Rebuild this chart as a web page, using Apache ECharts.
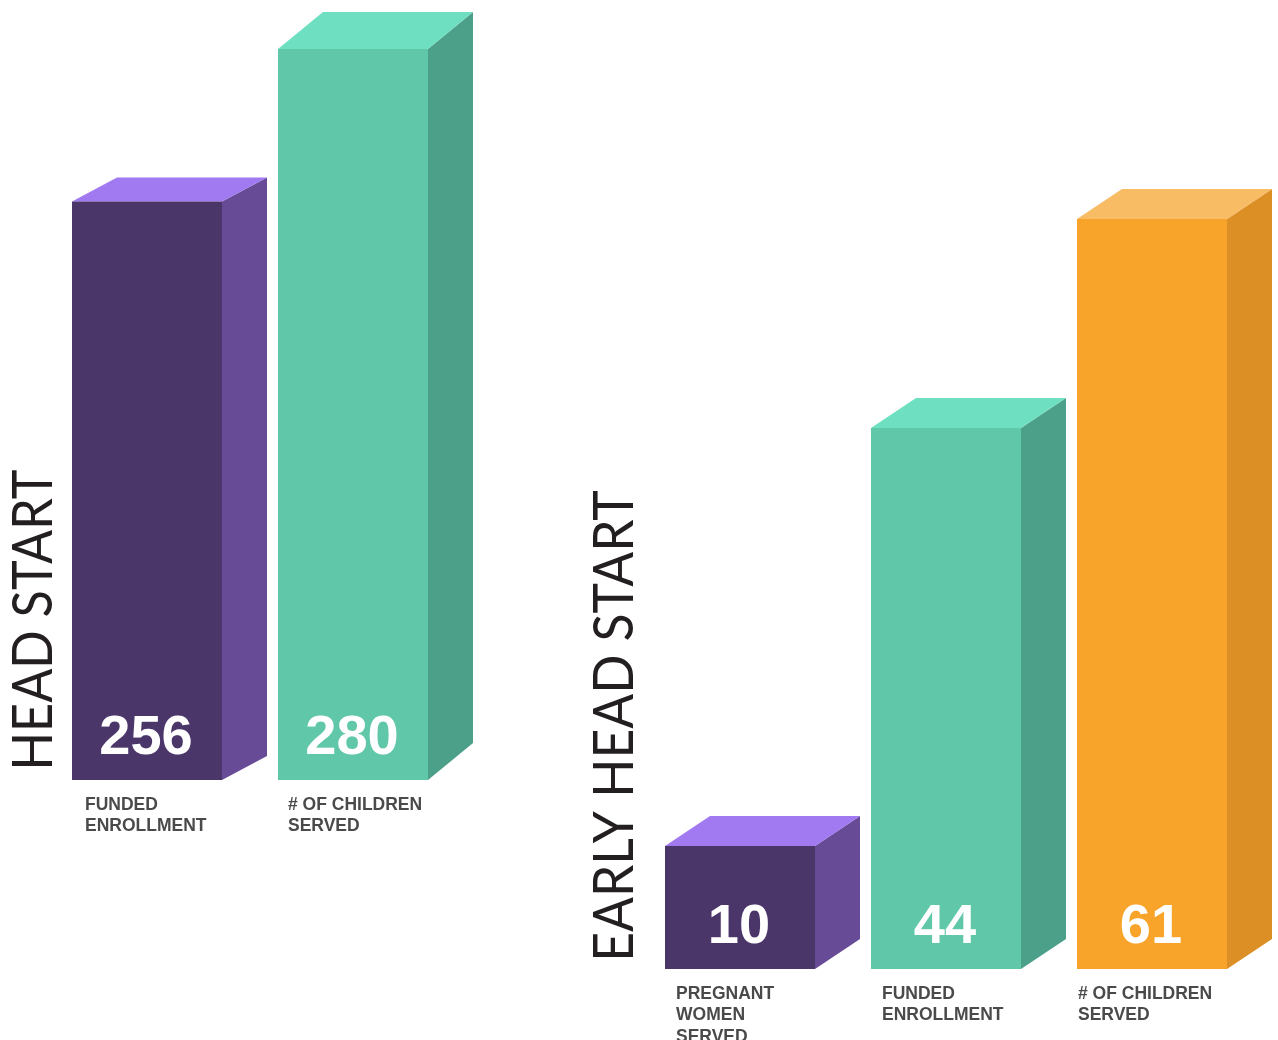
<!DOCTYPE html>
<html>
<head>
<meta charset="utf-8">
<title>Head Start / Early Head Start</title>
<script src="https://cdn.jsdelivr.net/npm/echarts@6.0.0/dist/echarts.min.js"></script>
<style>
    html, body { margin: 0; padding: 0; background: #ffffff; }
    #chart { width: 1278px; height: 1040px; }
</style>
</head>
<body>
<div id="chart"></div>
<script>
// Chart data
const groupTitles = ['HEAD START', 'EARLY HEAD START'];

const hsCategories = ['FUNDED\nENROLLMENT', '# OF CHILDREN\nSERVED'];
const hsValues = [256, 280];

const ehsCategories = ['PREGNANT\nWOMEN\nSERVED', 'FUNDED\nENROLLMENT', '# OF CHILDREN\nSERVED'];
const ehsValues = [10, 44, 61];

// Styling
const palette = {
    purple: { front: '#4b366a', side: '#674b97', top: '#a179f1' },
    teal:   { front: '#60c7a9', side: '#4c9f88', top: '#6ee0c1' },
    orange: { front: '#f8a32a', side: '#dc8f24', top: '#f8bc64' }
};
const hsColors = ['purple', 'teal'];
const ehsColors = ['purple', 'teal', 'orange'];
const hsDepth = [24, 37];
const ehsDepth = [30, 30, 30];
const hsLabelOffset = [13, 10];
const ehsLabelOffset = [11, 11, 1];
const depthX = 45;
const barWidth = 150;

document.addEventListener('DOMContentLoaded', function() {
    initializeChart();
});

// Builds a renderItem that draws a box-shaped bar plus its labels
function makeBoxRenderer(categories, colors, depths, labelOffsets, yMin) {
    return function(params, api) {
        const idx = api.value(0);
        const val = api.value(1);
        const topPt = api.coord([idx, val]);
        const basePt = api.coord([idx, yMin]);
        const cx = topPt[0];
        const x0 = cx - barWidth / 2;
        const x1 = cx + barWidth / 2;
        const yTop = topPt[1];
        const yBase = basePt[1];
        const dy = depths[idx];
        const c = palette[colors[idx]];

        return {
            type: 'group',
            children: [
                {
                    type: 'polygon',
                    shape: { points: [[x1, yTop], [x1 + depthX, yTop - dy], [x1 + depthX, yBase - dy], [x1, yBase]] },
                    style: { fill: c.side }
                },
                {
                    type: 'polygon',
                    shape: { points: [[x0, yTop], [x0 + depthX, yTop - dy], [x1 + depthX, yTop - dy], [x1, yTop]] },
                    style: { fill: c.top }
                },
                {
                    type: 'rect',
                    shape: { x: x0, y: yTop, width: barWidth, height: yBase - yTop },
                    style: { fill: c.front }
                },
                {
                    type: 'text',
                    style: {
                        text: String(val),
                        x: cx - 1,
                        y: yBase - 41,
                        fill: '#ffffff',
                        fontFamily: 'Liberation Sans, Arial, sans-serif',
                        fontWeight: 'bold',
                        fontSize: 56,
                        align: 'center',
                        verticalAlign: 'middle'
                    }
                },
                {
                    type: 'text',
                    style: {
                        text: categories[idx],
                        x: x0 + labelOffsets[idx],
                        y: yBase + 14,
                        fill: '#4a4a4a',
                        fontFamily: 'Liberation Sans, Arial, sans-serif',
                        fontWeight: 'bold',
                        fontSize: 17.5,
                        lineHeight: 21.5,
                        align: 'left',
                        verticalAlign: 'top'
                    }
                }
            ]
        };
    };
}

function initializeChart() {
    const chart = echarts.init(document.getElementById('chart'), null, { renderer: 'canvas' });

    const hsMin = 165, hsMax = 280;
    const ehsMin = 0, ehsMax = 61;

    const titleStyle = {
        fill: '#231f20',
        fontFamily: 'Lato, "Open Sans", sans-serif',
        fontWeight: 'normal',
        fontSize: 56,
        align: 'center',
        verticalAlign: 'middle'
    };

    const option = {
        backgroundColor: '#ffffff',
        animation: false,
        grid: [
            { left: 44, top: 49, width: 412, height: 731 },
            { left: 637, top: 219, width: 618, height: 750 }
        ],
        xAxis: [
            { type: 'category', gridIndex: 0, data: hsCategories, show: false },
            { type: 'category', gridIndex: 1, data: ehsCategories, show: false }
        ],
        yAxis: [
            { type: 'value', gridIndex: 0, min: hsMin, max: hsMax, show: false },
            { type: 'value', gridIndex: 1, min: ehsMin, max: ehsMax, show: false }
        ],
        graphic: [
            {
                type: 'text',
                x: 34, y: 620,
                rotation: Math.PI / 2,
                scaleX: 0.9,
                style: Object.assign({ text: groupTitles[0] }, titleStyle)
            },
            {
                type: 'text',
                x: 615, y: 726,
                rotation: Math.PI / 2,
                scaleX: 0.92,
                style: Object.assign({ text: groupTitles[1] }, titleStyle)
            }
        ],
        series: [
            {
                type: 'custom',
                xAxisIndex: 0,
                yAxisIndex: 0,
                clip: false,
                silent: true,
                renderItem: makeBoxRenderer(hsCategories, hsColors, hsDepth, hsLabelOffset, hsMin),
                encode: { x: 0, y: 1 },
                data: hsValues.map((v, i) => [i, v])
            },
            {
                type: 'custom',
                xAxisIndex: 1,
                yAxisIndex: 1,
                clip: false,
                silent: true,
                renderItem: makeBoxRenderer(ehsCategories, ehsColors, ehsDepth, ehsLabelOffset, ehsMin),
                encode: { x: 0, y: 1 },
                data: ehsValues.map((v, i) => [i, v])
            }
        ]
    };

    chart.setOption(option);
}
</script>
</body>
</html>
